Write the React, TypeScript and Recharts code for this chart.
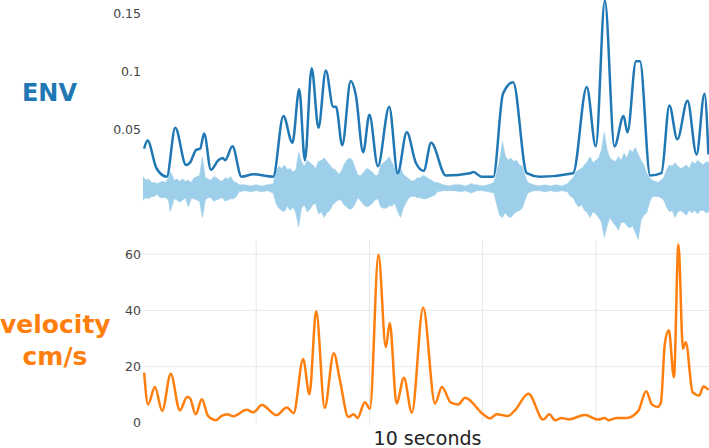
import { Area, ComposedChart, Line, LineChart, ReferenceLine, XAxis, YAxis } from "recharts";

// ENV envelope (top panel), time in seconds
const envT = [
  0.02, 0.08, 0.24, 0.42, 0.57, 0.76, 0.83, 0.94, 1.01, 1.08,
  1.2, 1.33, 1.41, 1.45, 1.58, 1.74, 1.95, 2.3, 2.48, 2.64,
  2.76, 2.86, 2.98, 3.1, 3.23, 3.36, 3.41, 3.52, 3.67, 3.76,
  3.89, 4.0, 4.15, 4.35, 4.5, 4.66, 4.82, 4.96, 5.09, 5.35,
  5.78, 5.84, 5.98, 6.19, 6.36, 6.54, 6.78, 7.01, 7.6, 7.84,
  8.0, 8.16, 8.33, 8.49, 8.56, 8.71, 8.78, 8.96, 9.16, 9.3,
  9.44, 9.62, 9.78, 9.92, 9.99,
];
const envV = [
  0.034, 0.041, 0.017, 0.01, 0.052, 0.02, 0.022, 0.033, 0.034, 0.047,
  0.016, 0.024, 0.026, 0.024, 0.036, 0.01, 0.012, 0.01, 0.062, 0.039,
  0.085, 0.024, 0.103, 0.052, 0.101, 0.07, 0.07, 0.037, 0.092, 0.08,
  0.031, 0.063, 0.019, 0.07, 0.013, 0.048, 0.022, 0.015, 0.039, 0.011,
  0.013, 0.014, 0.01, 0.01, 0.081, 0.091, 0.013, 0.01, 0.013, 0.087,
  0.036, 0.161, 0.036, 0.062, 0.048, 0.109, 0.109, 0.011, 0.013, 0.071,
  0.042, 0.075, 0.029, 0.081, 0.029,
];

// audio waveform band (upper / lower envelope)
const wavT = [
  0.0, 0.05, 0.1, 0.15, 0.2, 0.25, 0.3, 0.35, 0.4, 0.45,
  0.48, 0.52, 0.55, 0.6, 0.65, 0.7, 0.75, 0.8, 0.85, 0.9,
  0.95, 1.0, 1.05, 1.1, 1.15, 1.2, 1.25, 1.3, 1.35, 1.4,
  1.45, 1.5, 1.55, 1.6, 1.65, 1.7, 1.8, 1.9, 2.0, 2.1,
  2.2, 2.3, 2.35, 2.4, 2.45, 2.5, 2.55, 2.6, 2.65, 2.7,
  2.75, 2.8, 2.85, 2.9, 2.95, 3.0, 3.05, 3.1, 3.15, 3.2,
  3.25, 3.3, 3.35, 3.4, 3.45, 3.5, 3.55, 3.6, 3.65, 3.7,
  3.75, 3.8, 3.85, 3.9, 3.95, 4.0, 4.05, 4.1, 4.15, 4.2,
  4.25, 4.3, 4.35, 4.4, 4.45, 4.5, 4.55, 4.6, 4.65, 4.7,
  4.75, 4.8, 4.85, 4.9, 4.95, 5.0, 5.05, 5.1, 5.15, 5.2,
  5.3, 5.4, 5.5, 5.6, 5.7, 5.8, 5.85, 5.9, 6.0, 6.1,
  6.2, 6.25, 6.3, 6.35, 6.4, 6.45, 6.5, 6.55, 6.6, 6.65,
  6.7, 6.75, 6.8, 6.9, 7.0, 7.1, 7.2, 7.3, 7.4, 7.5,
  7.55, 7.6, 7.65, 7.7, 7.75, 7.8, 7.85, 7.9, 7.95, 8.0,
  8.05, 8.1, 8.15, 8.2, 8.25, 8.3, 8.35, 8.4, 8.45, 8.5,
  8.55, 8.6, 8.65, 8.7, 8.75, 8.8, 8.85, 8.9, 8.95, 9.0,
  9.05, 9.1, 9.15, 9.2, 9.25, 9.3, 9.35, 9.4, 9.45, 9.5,
  9.55, 9.6, 9.65, 9.7, 9.75, 9.8, 9.85, 9.9, 9.95, 10.0,
];
const wavHi = [
  0.01, 0.007, 0.008, 0.005, 0.005, 0.004, 0.005, 0.006, 0.005, 0.009,
  0.014, 0.011, 0.007, 0.008, 0.006, 0.008, 0.006, 0.007, 0.005, 0.009,
  0.01, 0.011, 0.027, 0.009, 0.008, 0.007, 0.01, 0.009, 0.007, 0.006,
  0.009, 0.008, 0.01, 0.006, 0.005, 0.003, 0.003, 0.002, 0.003, 0.002,
  0.003, 0.004, 0.014, 0.019, 0.017, 0.02, 0.016, 0.017, 0.014, 0.016,
  0.031, 0.023, 0.019, 0.024, 0.022, 0.02, 0.017, 0.023, 0.024, 0.026,
  0.023, 0.02, 0.017, 0.016, 0.012, 0.014, 0.02, 0.024, 0.026, 0.024,
  0.017, 0.011, 0.011, 0.014, 0.017, 0.016, 0.014, 0.011, 0.011, 0.02,
  0.022, 0.024, 0.027, 0.022, 0.017, 0.014, 0.017, 0.012, 0.01, 0.008,
  0.006, 0.007, 0.009, 0.009, 0.011, 0.01, 0.008, 0.007, 0.005, 0.005,
  0.003, 0.002, 0.003, 0.003, 0.002, 0.004, 0.003, 0.003, 0.002, 0.003,
  0.005, 0.014, 0.024, 0.04, 0.028, 0.024, 0.026, 0.023, 0.024, 0.02,
  0.019, 0.011, 0.005, 0.003, 0.002, 0.003, 0.002, 0.003, 0.002, 0.004,
  0.007, 0.009, 0.014, 0.016, 0.017, 0.02, 0.023, 0.027, 0.022, 0.024,
  0.026, 0.033, 0.048, 0.033, 0.026, 0.024, 0.023, 0.027, 0.024, 0.03,
  0.026, 0.033, 0.031, 0.035, 0.029, 0.024, 0.02, 0.013, 0.009, 0.007,
  0.006, 0.005, 0.007, 0.009, 0.016, 0.02, 0.019, 0.022, 0.019, 0.017,
  0.018, 0.02, 0.017, 0.023, 0.021, 0.024, 0.022, 0.02, 0.023, 0.022,
];
const wavLo = [
  -0.01, -0.008, -0.009, -0.007, -0.007, -0.005, -0.008, -0.008, -0.008, -0.01,
  -0.02, -0.014, -0.009, -0.01, -0.012, -0.01, -0.008, -0.016, -0.009, -0.009,
  -0.01, -0.011, -0.025, -0.01, -0.008, -0.008, -0.011, -0.01, -0.009, -0.008,
  -0.011, -0.01, -0.009, -0.009, -0.007, -0.003, -0.002, -0.003, -0.002, -0.003,
  -0.002, -0.004, -0.013, -0.017, -0.019, -0.02, -0.015, -0.019, -0.016, -0.021,
  -0.033, -0.017, -0.014, -0.02, -0.018, -0.014, -0.013, -0.022, -0.02, -0.025,
  -0.021, -0.019, -0.014, -0.012, -0.01, -0.01, -0.014, -0.016, -0.018, -0.017,
  -0.013, -0.008, -0.011, -0.014, -0.016, -0.015, -0.013, -0.01, -0.009, -0.016,
  -0.017, -0.017, -0.015, -0.015, -0.013, -0.02, -0.025, -0.017, -0.012, -0.008,
  -0.007, -0.007, -0.008, -0.008, -0.009, -0.009, -0.008, -0.007, -0.006, -0.003,
  -0.002, -0.002, -0.002, -0.003, -0.002, -0.004, -0.003, -0.002, -0.002, -0.003,
  -0.004, -0.014, -0.023, -0.025, -0.021, -0.024, -0.025, -0.022, -0.02, -0.019,
  -0.017, -0.01, -0.004, -0.002, -0.002, -0.003, -0.002, -0.003, -0.002, -0.003,
  -0.007, -0.008, -0.013, -0.016, -0.014, -0.019, -0.021, -0.025, -0.02, -0.022,
  -0.025, -0.029, -0.042, -0.032, -0.025, -0.029, -0.032, -0.036, -0.029, -0.029,
  -0.032, -0.034, -0.032, -0.038, -0.044, -0.027, -0.023, -0.021, -0.012, -0.007,
  -0.007, -0.007, -0.008, -0.01, -0.016, -0.02, -0.019, -0.025, -0.02, -0.019,
  -0.021, -0.023, -0.019, -0.021, -0.019, -0.022, -0.019, -0.019, -0.021, -0.02,
];

// velocity (bottom panel), cm/s
const velT = [
  0.02, 0.09, 0.21, 0.34, 0.49, 0.65, 0.78, 0.83, 0.93, 1.04,
  1.15, 1.29, 1.39, 1.49, 1.6, 1.83, 1.95, 2.1, 2.36, 2.54,
  2.66, 2.83, 2.94, 3.06, 3.21, 3.37, 3.48, 3.63, 3.72, 3.79,
  3.92, 4.01, 4.16, 4.29, 4.36, 4.48, 4.61, 4.75, 4.95, 5.16,
  5.28, 5.44, 5.57, 5.69, 6.01, 6.13, 6.25, 6.45, 6.57, 6.81,
  7.07, 7.18, 7.28, 7.4, 7.51, 7.81, 8.04, 8.16, 8.22, 8.37,
  8.55, 8.75, 8.89, 8.99, 9.09, 9.15, 9.22, 9.29, 9.38, 9.46,
  9.54, 9.59, 9.71, 9.83, 9.9, 9.99,
];
const velV = [
  17.9, 6.6, 12.8, 4.3, 17.5, 4.5, 9.2, 8.8, 3.1, 8.4,
  2.5, 1.0, 2.5, 3.1, 2.4, 4.7, 3.8, 6.4, 2.8, 5.5,
  3.5, 22.7, 10.2, 39.7, 5.4, 24.8, 15.1, 2.1, 3.1, 1.8,
  7.4, 5.1, 59.8, 27.0, 35.5, 6.9, 16.1, 3.7, 40.9, 6.9,
  12.8, 7.2, 6.6, 9.0, 3.1, 1.6, 3.1, 2.5, 4.5, 10.4,
  1.2, 3.1, 1.0, 1.8, 1.3, 2.8, 1.2, 1.8, 1.0, 1.8,
  1.8, 4.3, 11.3, 6.6, 5.7, 7.2, 28.2, 32.9, 16.3, 63.4,
  26.4, 28.7, 11.0, 9.8, 13.0, 11.8,
];

const envTicks = [0.05, 0.1, 0.15];
const velTicks = [0, 20, 40, 60];
const velGrid = [20, 40, 60];
const secondTicks = [2, 4, 6, 8];

const envData = envT.map((t, i) => ({ t, v: envV[i] }));
const wavData = wavT.map((t, i) => ({ t, range: [wavLo[i], wavHi[i]] }));
const velData = velT.map((t, i) => ({ t, v: velV[i] }));

const font = "'DejaVu Sans', Verdana, sans-serif";
const tickStyle = { fill: "#444", fontSize: 12.5, fontFamily: font };
const gridColor = "#e8e8e8";

export default function App() {
  return (
    <div style={{ position: "absolute", left: 0, top: 0, width: 709, height: 448, background: "#fff", fontFamily: font }}>
      <div style={{ position: "absolute", left: 0, top: 0 }}>
        <ComposedChart width={709} height={245} margin={{ top: 0, right: 0, bottom: 0, left: 0 }}>
          <XAxis type="number" dataKey="t" domain={[0, 10]} hide allowDataOverflow />
          <YAxis
            type="number"
            width={143}
            domain={[-0.0486, 0.1615]}
            allowDataOverflow
            ticks={envTicks}
            axisLine={false}
            tickLine={false}
            tickSize={0}
            tickMargin={2}
            tick={tickStyle}
          />
          <Area
            data={wavData}
            dataKey="range"
            type="linear"
            stroke="#9ecfea"
            strokeWidth={0.6}
            fill="#9ecfea"
            fillOpacity={1}
            dot={false}
            activeDot={false}
            isAnimationActive={false}
          />
          <Line
            data={envData}
            dataKey="v"
            type="monotone"
            stroke="#1f77b4"
            strokeWidth={2.5}
            dot={false}
            activeDot={false}
            isAnimationActive={false}
          />
        </ComposedChart>
      </div>

      <div style={{ position: "absolute", left: 0, top: 230 }}>
        <LineChart width={709} height={218} margin={{ top: 10, right: 0, bottom: 25, left: 0 }}>
          <XAxis
            type="number"
            dataKey="t"
            domain={[0, 10]}
            ticks={secondTicks}
            height={0}
            tick={false}
            tickLine={false}
            axisLine={{ stroke: "#555", strokeWidth: 1.5 }}
            allowDataOverflow
          />
          <YAxis
            type="number"
            width={143}
            domain={[0, 65]}
            allowDataOverflow
            ticks={velTicks}
            axisLine={false}
            tickLine={false}
            tickSize={0}
            tickMargin={2}
            tick={tickStyle}
          />
          {velGrid.map((v) => (
            <ReferenceLine key={"h" + v} y={v} stroke={gridColor} strokeWidth={1} />
          ))}
          {secondTicks.map((s) => (
            <ReferenceLine key={"v" + s} x={s} stroke={gridColor} strokeWidth={1} />
          ))}
          <Line
            data={velData}
            dataKey="v"
            type="monotone"
            stroke="#ff7f0e"
            strokeWidth={2.5}
            dot={false}
            activeDot={false}
            isAnimationActive={false}
          />
        </LineChart>
      </div>

      <div
        style={{
          position: "absolute", left: 0, top: 81, width: 99, textAlign: "center",
          fontSize: 24, lineHeight: 1, fontWeight: "bold", color: "#1f77b4",
        }}
      >
        ENV
      </div>
      <div
        style={{
          position: "absolute", left: 0, top: 309, width: 110, textAlign: "center",
          fontSize: 25, lineHeight: "32px", fontWeight: "bold", color: "#ff7f0e",
        }}
      >
        velocity
        <br />
        cm/s
      </div>
      <div
        style={{
          position: "absolute", left: 143, top: 428, width: 569, textAlign: "center",
          fontSize: 19, lineHeight: "20px", color: "#222",
        }}
      >
        10 seconds
      </div>
    </div>
  );
}
